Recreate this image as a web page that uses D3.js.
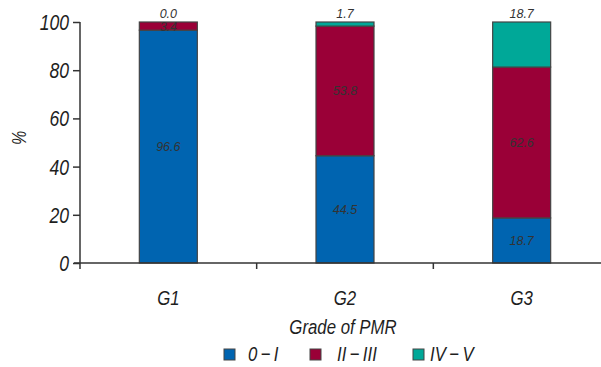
<!DOCTYPE html>
<html><head><meta charset="utf-8">
<script src="https://cdn.jsdelivr.net/npm/d3@7"></script>
<style>
body{margin:0;background:#fff;}
text{font-family:"Liberation Sans",Arial,Helvetica,sans-serif;font-style:italic;fill:#1e1e1e;}
.val{font-size:12.5px;fill:#333;}
</style></head>
<body>
<svg id="c" width="601" height="367"></svg>
<script>
const categories = ["G1","G2","G3"];
const seriesNames = ["0\u2009\u2212\u2009I","II\u2009\u2212\u2009III","IV\u2009\u2212\u2009V"];
const valsI = [96.6, 44.5, 18.7];
const valsII = [3.4, 53.8, 62.6];
const valsIV = [0.0, 1.7, 18.7];
const yTicks = [0,20,40,60,80,100];
const colors = ["#0064B0","#9A0037","#00A898"];

const svg = d3.select("#c");
const x = d3.scaleBand().domain(categories).range([80, 610]);
const y = d3.scaleLinear().domain([0,100]).range([263, 22]);
const barW = 58;
const SX = 0.8; // condensed look

function condText(g, px, py, txt, size, anchor){
  return g.append("text")
    .attr("transform","translate("+px+","+py+") scale("+SX+",1)")
    .attr("text-anchor", anchor||"start")
    .style("font-size", size+"px").text(txt);
}

const rows = categories.map((c,i)=>({cat:c, v:[valsI[i], valsII[i], valsIV[i]]}));
const stacked = d3.stack().keys([0,1,2]).value((d,k)=>d.v[k])(rows);

// bars
stacked.forEach((layer,k)=>{
  svg.append("g").selectAll("rect").data(layer).join("rect")
    .attr("x", d=>x(d.data.cat)+x.bandwidth()/2-barW/2)
    .attr("y", d=>y(d[1]))
    .attr("width", barW)
    .attr("height", d=>Math.max(0,y(d[0])-y(d[1])))
    .attr("fill", colors[k])
    .attr("stroke", "#444").attr("stroke-width", 1.2);
});

// value labels
stacked.forEach((layer,k)=>{
  svg.append("g").selectAll("text").data(layer).join("text")
    .attr("class","val")
    .attr("text-anchor","middle")
    .attr("x", d=>x(d.data.cat)+x.bandwidth()/2)
    .attr("y", d=> k===2 ? y(d[1]) - 4 : (y(d[0])+y(d[1]))/2 + 4.5)
    .text(d=>(d[1]-d[0]).toFixed(1));
});

// y axis
const yAxis = svg.append("g").attr("transform","translate(80,0)")
  .call(d3.axisLeft(y).tickValues(yTicks).tickSize(7).tickFormat(""));
yAxis.select(".domain").attr("d","M0,"+y(100)+"V"+(y(0)+6)).attr("stroke","#333").attr("stroke-width",1.5);
yAxis.selectAll(".tick line").attr("stroke","#333").attr("stroke-width",1.5);
const yl = svg.append("g");
yTicks.forEach(t=>condText(yl, 69, y(t)+8, String(t), 22, "end"));

// x axis
const xAxis = svg.append("g").attr("transform","translate(0,263)");
xAxis.append("line").attr("x1",74).attr("x2",610).attr("y1",0).attr("y2",0).attr("stroke","#333").attr("stroke-width",1.5);
xAxis.selectAll("line.tk").data(categories.slice(1)).join("line").attr("class","tk")
  .attr("x1",d=>x(d)).attr("x2",d=>x(d)).attr("y1",0).attr("y2",6).attr("stroke","#333").attr("stroke-width",1.5);
const xl = svg.append("g");
categories.forEach(c=>condText(xl, x(c)+x.bandwidth()/2, 305, c, 21, "middle"));

// axis titles
condText(svg, 343, 334, "Grade of PMR", 21, "middle");
svg.append("text").attr("transform","translate(26,138) rotate(-90) scale("+SX+",1)").attr("text-anchor","middle").style("font-size","20px").text("%");

// legend
const legX = [224, 310, 413];
const legTx = [24, 27, 17];
seriesNames.forEach((s,i)=>{
  const g = svg.append("g").attr("transform","translate("+legX[i]+",349)");
  g.append("rect").attr("width",11).attr("height",11).attr("fill",colors[i]).attr("stroke","#444").attr("stroke-width",1);
  condText(g, legTx[i], 12, s, 21, "start");
});
</script>
</body></html>
